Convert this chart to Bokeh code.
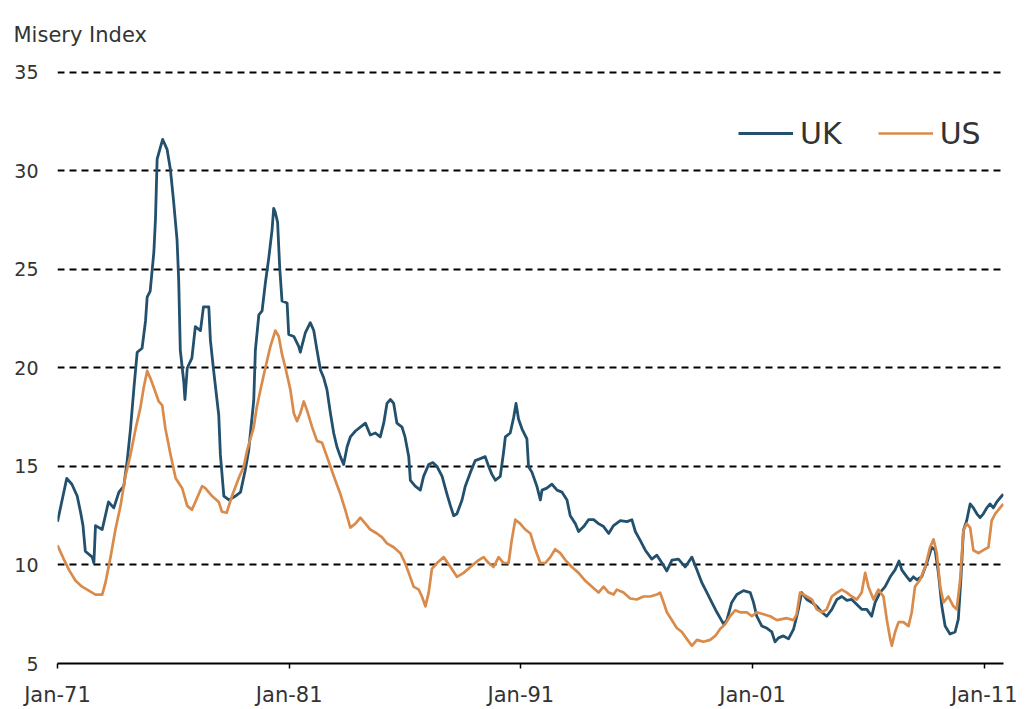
from bokeh.plotting import figure
from bokeh.models import Range1d, FixedTicker, Legend, LegendItem
from bokeh.embed import file_html
from bokeh.resources import INLINE

title_text = "Misery Index"
series_names = ["UK", "US"]
x_tick_years = [1971, 1981, 1991, 2001, 2011]
x_tick_labels = ["Jan-71", "Jan-81", "Jan-91", "Jan-01", "Jan-11"]
y_ticks = [5, 10, 15, 20, 25, 30, 35]

uk_year = [
    1971.00, 1971.40, 1971.62, 1971.85, 1972.00, 1972.10, 1972.20, 1972.50, 1972.57, 1972.64,
    1972.93, 1973.20, 1973.43, 1973.65, 1973.86, 1974.00, 1974.15, 1974.30, 1974.44, 1974.65,
    1974.80, 1974.87, 1975.00, 1975.16, 1975.23, 1975.30, 1975.44, 1975.54, 1975.73, 1975.87,
    1976.00, 1976.16, 1976.23, 1976.30, 1976.45, 1976.50, 1976.60, 1976.80, 1976.95, 1977.17,
    1977.30, 1977.53, 1977.60, 1977.74, 1977.96, 1978.03, 1978.18, 1978.40, 1978.68, 1978.90,
    1979.10, 1979.25, 1979.47, 1979.54, 1979.69, 1979.83, 1979.97, 1980.12, 1980.26, 1980.33,
    1980.40, 1980.50, 1980.59, 1980.69, 1980.91, 1980.98, 1981.20, 1981.41, 1981.48, 1981.70,
    1981.91, 1982.06, 1982.20, 1982.35, 1982.49, 1982.63, 1982.78, 1982.92, 1983.06, 1983.21,
    1983.35, 1983.50, 1983.64, 1983.86, 1984.07, 1984.29, 1984.50, 1984.72, 1984.93, 1985.08,
    1985.22, 1985.37, 1985.51, 1985.65, 1985.87, 1986.00, 1986.16, 1986.23, 1986.44, 1986.66,
    1986.80, 1987.02, 1987.20, 1987.38, 1987.60, 1987.81, 1987.96, 1988.10, 1988.24, 1988.46,
    1988.60, 1988.82, 1989.03, 1989.25, 1989.46, 1989.61, 1989.75, 1989.90, 1990.11, 1990.25,
    1990.33, 1990.54, 1990.69, 1990.79, 1990.90, 1991.05, 1991.26, 1991.33, 1991.48, 1991.69,
    1991.84, 1991.91, 1992.12, 1992.34, 1992.56, 1992.77, 1992.99, 1993.13, 1993.35, 1993.49,
    1993.71, 1993.92, 1994.14, 1994.35, 1994.57, 1994.79, 1995.00, 1995.29, 1995.58, 1995.79,
    1995.94, 1996.15, 1996.37, 1996.65, 1996.87, 1997.09, 1997.30, 1997.52, 1997.80, 1998.09,
    1998.38, 1998.60, 1998.81, 1999.03, 1999.24, 1999.46, 1999.75, 1999.89, 2000.10, 2000.32,
    2000.61, 2000.90, 2001.04, 2001.18, 2001.40, 2001.61, 2001.83, 2001.97, 2002.12, 2002.33,
    2002.55, 2002.77, 2002.95, 2003.12, 2003.34, 2003.56, 2003.77, 2003.99, 2004.20, 2004.42,
    2004.64, 2004.85, 2005.07, 2005.28, 2005.50, 2005.71, 2005.93, 2006.14, 2006.29, 2006.50,
    2006.72, 2006.94, 2007.15, 2007.32, 2007.44, 2007.66, 2007.80, 2007.94, 2008.09, 2008.30,
    2008.52, 2008.73, 2008.88, 2009.02, 2009.17, 2009.31, 2009.52, 2009.74, 2009.88, 2009.99,
    2010.10, 2010.24, 2010.39, 2010.53, 2010.68, 2010.82, 2010.96, 2011.11, 2011.25, 2011.39,
    2011.54, 2011.68, 2011.82]

uk_value = [
    12.2, 14.4, 14.1, 13.5, 12.65, 12.0, 10.7, 10.4, 10.1, 12.0,
    11.8, 13.2, 12.9, 13.7, 14.0, 15.2, 16.9, 19.0, 20.8, 21.0,
    22.4, 23.6, 23.9, 25.9, 27.6, 30.6, 31.2, 31.6, 31.1, 30.1,
    28.6, 26.5, 24.5, 20.9, 19.3, 18.4, 20.0, 20.5, 22.1, 21.9,
    23.1, 23.1, 21.4, 19.85, 17.6, 15.6, 13.5, 13.3, 13.5, 13.7,
    14.8, 15.8, 18.35, 20.9, 22.7, 22.9, 24.3, 25.6, 27.0, 28.1,
    27.9, 27.4, 25.1, 23.4, 23.3, 21.7, 21.6, 21.1, 20.8, 21.8,
    22.3, 21.9, 20.9, 19.9, 19.5, 18.9, 17.7, 16.7, 16.0, 15.5,
    15.1, 16.0, 16.5, 16.8, 17.0, 17.2, 16.6, 16.7, 16.5, 17.2,
    18.2, 18.4, 18.2, 17.2, 17.0, 16.5, 15.5, 14.3, 14.0, 13.8,
    14.5, 15.1, 15.2, 15.0, 14.5, 13.6, 13.0, 12.5, 12.6, 13.3,
    14.0, 14.7, 15.3, 15.4, 15.5, 15.0, 14.6, 14.3, 14.5, 15.7,
    16.5, 16.7, 17.5, 18.2, 17.4, 16.9, 16.4, 15.0, 14.7, 14.0,
    13.3, 13.8, 13.9, 14.1, 13.8, 13.7, 13.3, 12.5, 12.1, 11.7,
    11.95, 12.3, 12.3, 12.1, 11.95, 11.6, 12.0, 12.25, 12.2, 12.3,
    11.7, 11.25, 10.75, 10.3, 10.5, 10.1, 9.7, 10.25, 10.3, 9.9,
    10.4, 9.75, 9.1, 8.6, 8.1, 7.6, 7.0, 7.2, 8.1, 8.5,
    8.7, 8.6, 8.1, 7.4, 6.9, 6.8, 6.6, 6.1, 6.3, 6.4,
    6.25, 6.75, 7.6, 8.6, 8.25, 8.1, 7.9, 7.6, 7.4, 7.75,
    8.25, 8.4, 8.2, 8.25, 8.0, 7.75, 7.75, 7.4, 8.1, 8.6,
    8.9, 9.4, 9.75, 10.2, 9.75, 9.4, 9.2, 9.4, 9.25, 9.4,
    10.1, 10.9, 10.75, 9.6, 7.9, 6.9, 6.5, 6.6, 7.25, 9.25,
    11.75, 12.25, 13.1, 12.9, 12.6, 12.4, 12.6, 12.9, 13.1, 12.9,
    13.2, 13.4, 13.6]

us_year = [
    1971.00, 1971.27, 1971.50, 1971.78, 1972.06, 1972.35, 1972.64, 1972.93, 1973.07, 1973.29,
    1973.50, 1973.72, 1973.93, 1974.15, 1974.37, 1974.58, 1974.72, 1974.87, 1975.00, 1975.16,
    1975.37, 1975.52, 1975.66, 1975.88, 1976.10, 1976.38, 1976.60, 1976.80, 1976.95, 1977.24,
    1977.38, 1977.67, 1977.96, 1978.10, 1978.30, 1978.53, 1978.82, 1979.04, 1979.18, 1979.47,
    1979.60, 1979.76, 1979.97, 1980.19, 1980.40, 1980.55, 1980.69, 1980.84, 1981.05, 1981.20,
    1981.34, 1981.48, 1981.63, 1981.77, 1981.99, 1982.20, 1982.42, 1982.63, 1982.78, 1982.99,
    1983.21, 1983.42, 1983.64, 1983.86, 1984.07, 1984.29, 1984.50, 1984.79, 1985.01, 1985.22,
    1985.51, 1985.80, 1986.00, 1986.16, 1986.37, 1986.59, 1986.73, 1986.88, 1987.02, 1987.16,
    1987.38, 1987.67, 1987.96, 1988.24, 1988.53, 1988.82, 1989.18, 1989.39, 1989.61, 1989.82,
    1990.04, 1990.25, 1990.47, 1990.61, 1990.76, 1990.97, 1991.19, 1991.41, 1991.62, 1991.84,
    1992.05, 1992.27, 1992.48, 1992.70, 1992.92, 1993.20, 1993.49, 1993.78, 1994.07, 1994.35,
    1994.57, 1994.79, 1995.00, 1995.14, 1995.43, 1995.72, 1996.00, 1996.29, 1996.58, 1996.87,
    1997.01, 1997.16, 1997.30, 1997.52, 1997.73, 1997.95, 1998.16, 1998.38, 1998.60, 1998.88,
    1999.17, 1999.39, 1999.60, 1999.82, 2000.03, 2000.25, 2000.46, 2000.75, 2000.97, 2001.18,
    2001.47, 2001.76, 2002.05, 2002.26, 2002.48, 2002.77, 2002.90, 2003.05, 2003.34, 2003.56,
    2003.77, 2003.99, 2004.20, 2004.42, 2004.64, 2004.85, 2005.07, 2005.28, 2005.50, 2005.71,
    2005.86, 2006.00, 2006.22, 2006.43, 2006.65, 2006.79, 2006.94, 2007.01, 2007.15, 2007.30,
    2007.51, 2007.73, 2007.87, 2008.01, 2008.23, 2008.45, 2008.66, 2008.81, 2008.95, 2009.10,
    2009.24, 2009.45, 2009.67, 2009.81, 2009.96, 2010.10, 2010.24, 2010.39, 2010.53, 2010.75,
    2010.96, 2011.18, 2011.32, 2011.47, 2011.68, 2011.82]

us_value = [
    11.0, 10.3, 9.74, 9.2, 8.9, 8.7, 8.5, 8.5, 9.1, 10.4,
    11.8, 13.0, 14.5, 15.6, 16.9, 18.0, 19.0, 19.85, 19.5, 19.0,
    18.3, 18.1, 16.9, 15.6, 14.4, 13.9, 13.0, 12.8, 13.2, 14.0,
    13.9, 13.5, 13.2, 12.7, 12.65, 13.5, 14.4, 15.0, 15.8, 17.0,
    18.0, 18.9, 20.0, 21.1, 21.9, 21.6, 20.7, 20.0, 18.9, 17.7,
    17.3, 17.7, 18.3, 17.85, 17.0, 16.3, 16.2, 15.5, 15.0, 14.3,
    13.6, 12.8, 11.9, 12.1, 12.4, 12.1, 11.8, 11.6, 11.4, 11.1,
    10.9, 10.6, 10.1, 9.6, 8.9, 8.75, 8.4, 7.9, 8.6, 9.8,
    10.1, 10.4, 9.9, 9.4, 9.6, 9.9, 10.25, 10.4, 10.1, 9.9,
    10.4, 10.1, 10.1, 11.3, 12.3, 12.1, 11.8, 11.6, 10.8, 10.1,
    10.1, 10.4, 10.8, 10.6, 10.25, 9.9, 9.6, 9.2, 8.9, 8.6,
    8.9, 8.6, 8.5, 8.75, 8.6, 8.3, 8.25, 8.4, 8.4, 8.5,
    8.6, 8.1, 7.6, 7.2, 6.8, 6.6, 6.25, 5.9, 6.2, 6.1,
    6.2, 6.4, 6.75, 7.0, 7.4, 7.7, 7.6, 7.6, 7.4, 7.6,
    7.5, 7.4, 7.2, 7.25, 7.3, 7.2, 7.5, 8.6, 8.4, 8.25,
    7.75, 7.6, 7.75, 8.4, 8.6, 8.75, 8.6, 8.4, 8.25, 8.6,
    9.6, 8.9, 8.25, 8.75, 8.4, 7.25, 6.25, 5.9, 6.6, 7.1,
    7.1, 6.9, 7.6, 8.9, 9.25, 9.9, 10.9, 11.3, 10.6, 8.9,
    8.1, 8.4, 7.9, 7.75, 9.25, 11.75, 12.1, 11.9, 10.75, 10.6,
    10.75, 10.9, 12.25, 12.6, 12.9, 13.1]

assert len(uk_year) == len(uk_value)
assert len(us_year) == len(us_value)

UK_COLOR = "#22506D"
US_COLOR = "#D98B4B"
TEXT_COLOR = "#333333"
FONT = "DejaVu Sans"

# layout (figure pixels)
W, H = 1026, 709
B_LEFT, B_RIGHT, B_TOP, B_BOTTOM = 57, 23, 70, 44
X0, X1 = 1971.0, 2011.83
Y0, Y1 = 5.0, 35.1

p = figure(width=W, height=H, output_backend="svg", toolbar_location=None,
           x_range=Range1d(X0, X1), y_range=Range1d(Y0, Y1),
           min_border_left=B_LEFT, min_border_right=B_RIGHT,
           min_border_top=B_TOP, min_border_bottom=B_BOTTOM)
p.outline_line_color = None
p.background_fill_color = "white"
p.border_fill_color = "white"

# title
p.title.text = title_text
p.title.align = "left"
p.title.offset = -44
p.title.standoff = 43
p.title.vertical_align = "top"
p.title.text_font = FONT
p.title.text_font_size = "21px"
p.title.text_font_style = "normal"
p.title.text_color = TEXT_COLOR

uk_r = p.line(uk_year, uk_value, line_color=UK_COLOR, line_width=2.8, line_join="round")
us_r = p.line(us_year, us_value, line_color=US_COLOR, line_width=2.7, line_join="round")

# x axis
xa = p.xaxis[0]
xa.ticker = FixedTicker(ticks=x_tick_years)
xa.major_label_overrides = {t: lab for t, lab in zip(x_tick_years, x_tick_labels)}
xa.axis_line_color = "black"
xa.axis_line_width = 2
xa.major_tick_line_color = "black"
xa.major_tick_line_width = 1.5
xa.major_tick_out = 5
xa.major_tick_in = 0
xa.minor_tick_out = 0
xa.minor_tick_in = 0
xa.major_label_standoff = 14
xa.major_label_text_font = FONT
xa.major_label_text_font_size = "21px"
xa.major_label_text_color = TEXT_COLOR

# y axis
ya = p.yaxis[0]
ya.ticker = FixedTicker(ticks=y_ticks)
ya.axis_line_color = None
ya.major_tick_line_color = None
ya.minor_tick_line_color = None
ya.major_tick_out = 0
ya.major_tick_in = 0
ya.major_label_standoff = 19
ya.major_label_text_font = FONT
ya.major_label_text_font_size = "19px"
ya.major_label_text_color = TEXT_COLOR

p.xgrid.visible = False
p.ygrid.ticker = FixedTicker(ticks=y_ticks)
p.ygrid.grid_line_color = "black"
p.ygrid.grid_line_width = 1.8
p.ygrid.grid_line_dash = "7 5"

legend = Legend(items=[LegendItem(label=series_names[0], renderers=[uk_r]),
                       LegendItem(label=series_names[1], renderers=[us_r])],
                orientation="horizontal", location=(681, 512),
                padding=0, margin=0, spacing=36, label_standoff=7,
                glyph_width=55, glyph_height=36, label_height=36,
                border_line_color=None, background_fill_alpha=0,
                label_text_font=FONT, label_text_font_size="30px",
                label_text_color=TEXT_COLOR)
p.add_layout(legend, "center")

open("out.html", "w").write(file_html(p, INLINE))
